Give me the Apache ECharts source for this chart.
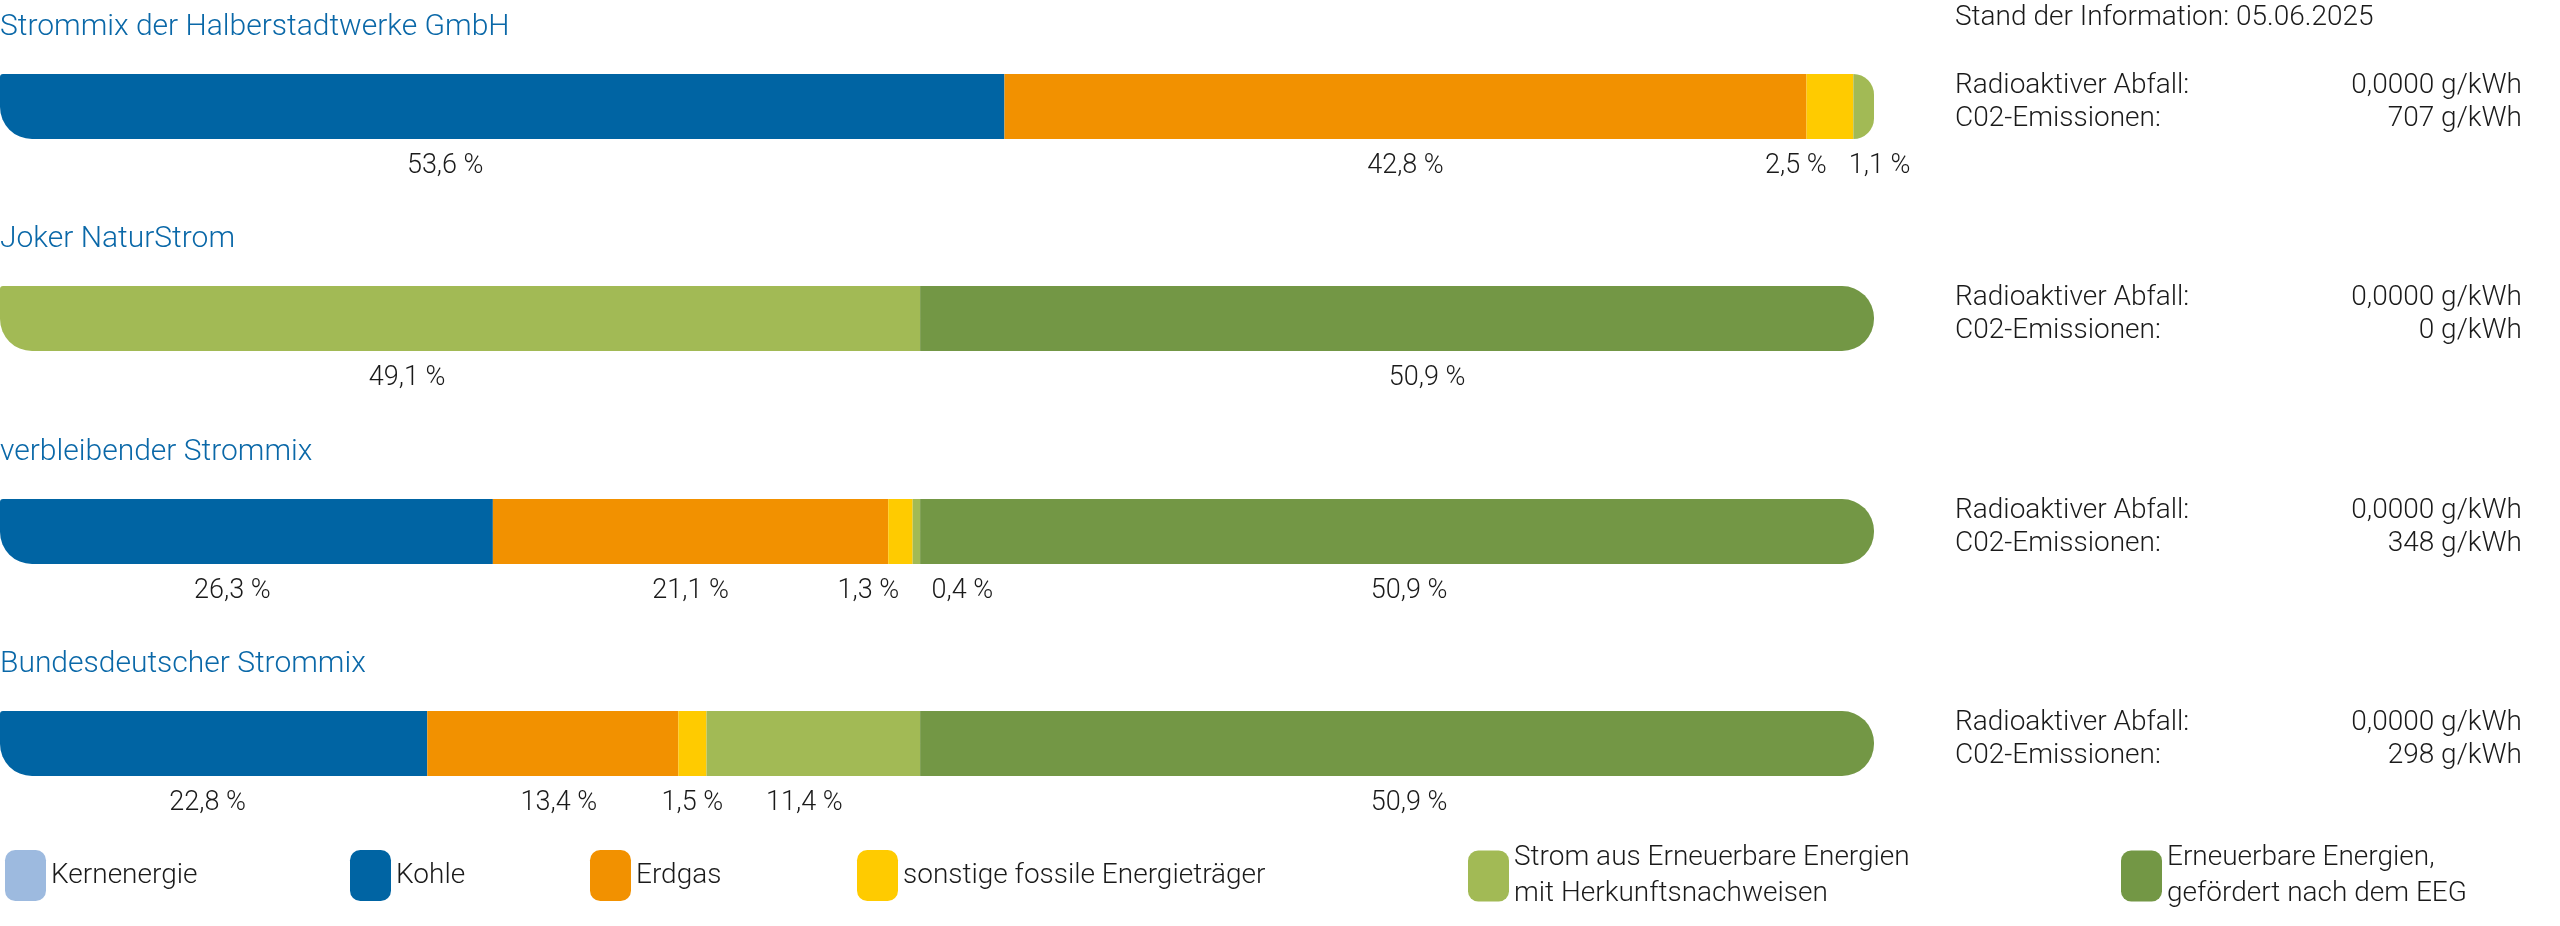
<!DOCTYPE html>
<html><head><meta charset="utf-8">
<script src="https://cdn.jsdelivr.net/npm/echarts@6/dist/echarts.min.js"></script>
<style>html,body{margin:0;padding:0;background:#fff}#c{width:2560px;height:926px}</style>
</head><body><div id="c"></div>
<script>
var categories = ['Kernenergie','Kohle','Erdgas','sonstige fossile Energieträger','Strom aus Erneuerbare Energien mit Herkunftsnachweisen','Erneuerbare Energien, gefördert nach dem EEG'];
var mixNames = ['Strommix der Halberstadtwerke GmbH','Joker NaturStrom','verbleibender Strommix','Bundesdeutscher Strommix'];
var mixHalberstadt = [0, 53.6, 42.8, 2.5, 1.1, 0];
var mixJoker = [0, 0, 0, 0, 49.1, 50.9];
var mixVerbleibend = [0, 26.3, 21.1, 1.3, 0.4, 50.9];
var mixBund = [0, 22.8, 13.4, 1.5, 11.4, 50.9];
var radioactive = ['0,0000 g/kWh','0,0000 g/kWh','0,0000 g/kWh','0,0000 g/kWh'];
var co2 = ['707 g/kWh','0 g/kWh','348 g/kWh','298 g/kWh'];
var standText = 'Stand der Information: 05.06.2025';

var mixes = [mixHalberstadt, mixJoker, mixVerbleibend, mixBund];
var colors = ['#9dbadf','#0064a3','#f29100','#ffcb00','#a2ba55','#739745'];
var labelShift = [[0,-57,0,-34,16,0],[0,0,0,0,-53,30],[0,-14,0,-32,46,12],[0,-6,6,0,-9,12]];
var rowTop = [74,286,499,711];
var barW = 1874, barH = 65;
var font = 'Roboto';
function fmt(v){return v.toFixed(1).replace('.',',')+' %';}

var grids=[],xAxes=[],yAxes=[],series=[],graphics=[];
mixes.forEach(function(mix,r){
  grids.push({left:0,top:rowTop[r],width:barW,height:barH});
  xAxes.push({type:'value',gridIndex:r,min:0,max:100,show:false});
  yAxes.push({type:'category',gridIndex:r,data:[mixNames[r]],show:false});
  var first=-1,last=-1;
  mix.forEach(function(v,k){if(v>0){if(first<0)first=k;last=k;}});
  categories.forEach(function(cat,k){
    var v=mix[k];
    var rad=[0,0,0,0];
    if(k===first){rad[0]=3;rad[3]=32;}
    if(k===last){rad[1]=32;rad[2]=32;}
    series.push({name:cat,type:'bar',stack:'s'+r,xAxisIndex:r,yAxisIndex:r,barWidth:barH,
      itemStyle:{color:colors[k]},silent:true,
      data: v>0?[{value:v,itemStyle:{borderRadius:rad},
        label:{show:true,position:'bottom',distance:14,offset:[labelShift[r][k],0],
          formatter:fmt(v),color:'#1a1a1a',fontFamily:font,fontSize:27,fontWeight:300}}]:[]});
  });
  graphics.push({type:'text',left:0,top:rowTop[r]-62,style:{text:mixNames[r],fill:'#0a68a8',font:'300 30px '+font}});
  graphics.push({type:'text',left:1955,top:rowTop[r]-2,style:{text:'Radioaktiver Abfall:',fill:'#1a1a1a',font:'300 28px '+font}});
  graphics.push({type:'text',left:1955,top:rowTop[r]+31,style:{text:'C02-Emissionen:',fill:'#1a1a1a',font:'300 28px '+font}});
  graphics.push({type:'text',right:38,top:rowTop[r]-2,style:{text:radioactive[r],fill:'#1a1a1a',font:'300 28px '+font,align:'right'}});
  graphics.push({type:'text',right:38,top:rowTop[r]+31,style:{text:co2[r],fill:'#1a1a1a',font:'300 28px '+font,align:'right'}});
});
graphics.push({type:'text',left:1955,top:4,style:{text:standText,fill:'#1a1a1a',font:'300 28px '+font}});

var legendLeft=[0,345,585,852,1463,2116];
var legendText=['Kernenergie','Kohle','Erdgas','sonstige fossile Energieträger','Strom aus Erneuerbare Energien\nmit Herkunftsnachweisen','Erneuerbare Energien,\ngefördert nach dem EEG'];
var legends=categories.map(function(cat,k){
  var two=legendText[k].indexOf('\n')>=0;
  return {data:[cat],left:legendLeft[k],top:two?817:845,icon:'roundRect',itemWidth:41,itemHeight:51,itemGap:0,
    selectedMode:false,
    formatter:function(){return legendText[k];},
    textStyle:{fontFamily:font,fontSize:28,fontWeight:300,color:'#1a1a1a',lineHeight:36,padding:two?[36,0,0,0]:0}};
});

var chart=echarts.init(document.getElementById('c'));
chart.setOption({animation:false,grid:grids,xAxis:xAxes,yAxis:yAxes,series:series,legend:legends,graphic:graphics});
</script></body></html>
